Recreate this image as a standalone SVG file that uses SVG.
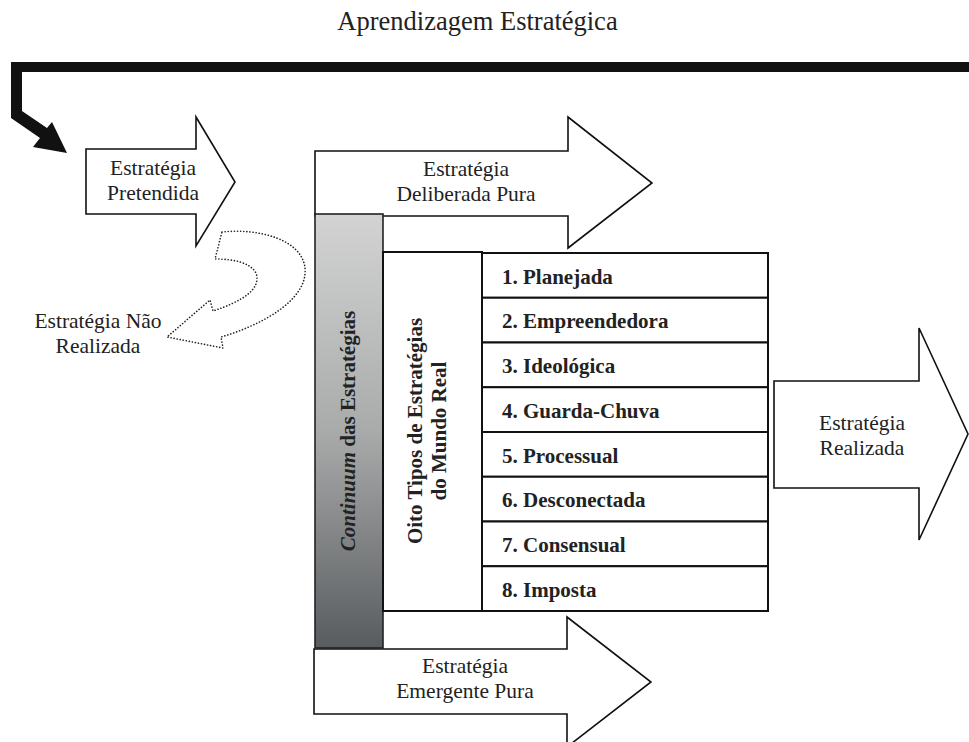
<svg xmlns="http://www.w3.org/2000/svg" width="969" height="742" viewBox="0 0 969 742">
<style>
.t{font-family:"Liberation Serif","Times New Roman",serif;font-size:21.5px;fill:#222;text-anchor:middle}
.b{font-family:"Liberation Serif","Times New Roman",serif;font-size:21px;font-weight:bold;fill:#222}
.arr{fill:#fff;stroke:#111;stroke-width:1.6;stroke-linejoin:miter}
.row{fill:#fff;stroke:#111;stroke-width:2}
</style>
<defs>
<linearGradient id="g" x1="0" y1="0" x2="0" y2="1">
<stop offset="0" stop-color="#d3d3d3"/>
<stop offset="0.5" stop-color="#a9abab"/>
<stop offset="1" stop-color="#595c5f"/>
</linearGradient>
</defs>
<text x="477.5" y="30" class="t" style="font-size:26.5px">Aprendizagem Estratégica</text>
<g id="connectors">
<polygon points="11,62 969,62 969,72 22,72 22,111 47,128 52,122 67,153 33,147 40,138 11,118" fill="#111"/>
<path d="M222,232 C260,228 302,240 305,268 C308,300 262,325 221,337 L223,348 L167,337 L210,300 L213,311 C240,302 262,290 256,273 C250,262 232,259 215,259 Z" fill="none" stroke="#222" stroke-width="1.6" stroke-dasharray="0.1 3" stroke-linecap="round"/>
</g>
<g id="pretendida">
<polygon class="arr" points="86,149 196,149 196,117 235,182 196,246 196,214 86,214"/>
<text x="153" y="175" class="t">Estratégia</text>
<text x="153" y="200" class="t">Pretendida</text>
</g>
<g id="nao-realizada">
<text x="98" y="328" class="t">Estratégia Não</text>
<text x="98" y="353" class="t">Realizada</text>
</g>
<g id="deliberada">
<polygon class="arr" points="315,151 568,151 568,117 652,183 568,248 568,216 315,216"/>
<text x="466" y="176" class="t">Estratégia</text>
<text x="466" y="201" class="t">Deliberada Pura</text>
</g>
<g id="emergente">
<polygon class="arr" points="314,649 567,649 567,617 651,682 567,747 567,714 314,714"/>
<text x="465" y="673" class="t">Estratégia</text>
<text x="465" y="698" class="t">Emergente Pura</text>
</g>
<g id="continuum">
<rect x="315" y="214" width="68" height="434" fill="url(#g)" stroke="#222" stroke-width="1.6"/>
<text transform="translate(355,431) rotate(-90)" class="b" text-anchor="middle"><tspan font-style="italic">Continuum</tspan> das Estratégias</text>
</g>
<g id="oito-tipos">
<rect x="383" y="252" width="99" height="359" fill="#fff" stroke="#111" stroke-width="2"/>
<text transform="translate(422,431) rotate(-90)" class="b" text-anchor="middle">Oito Tipos de Estratégias</text>
<text transform="translate(446,431) rotate(-90)" class="b" text-anchor="middle">do Mundo Real</text>
</g>
<g id="tipos">
<rect class="row" x="482" y="253" width="286" height="44.75"/>
<rect class="row" x="482" y="297.75" width="286" height="44.75"/>
<rect class="row" x="482" y="342.5" width="286" height="44.75"/>
<rect class="row" x="482" y="387.25" width="286" height="44.75"/>
<rect class="row" x="482" y="432" width="286" height="44.75"/>
<rect class="row" x="482" y="476.75" width="286" height="44.75"/>
<rect class="row" x="482" y="521.5" width="286" height="44.75"/>
<rect class="row" x="482" y="566.25" width="286" height="44.75"/>
<text x="502" y="283.5" class="b">1. Planejada</text>
<text x="502" y="328.25" class="b">2. Empreendedora</text>
<text x="502" y="373" class="b">3. Ideológica</text>
<text x="502" y="417.75" class="b">4. Guarda-Chuva</text>
<text x="502" y="462.5" class="b">5. Processual</text>
<text x="502" y="507.25" class="b">6. Desconectada</text>
<text x="502" y="552" class="b">7. Consensual</text>
<text x="502" y="596.75" class="b">8. Imposta</text>
</g>
<g id="realizada">
<polygon class="arr" points="774,381 919,381 919,328 968,434 919,540 919,488 774,488"/>
<text x="862" y="430" class="t">Estratégia</text>
<text x="862" y="455" class="t">Realizada</text>
</g>
</svg>
